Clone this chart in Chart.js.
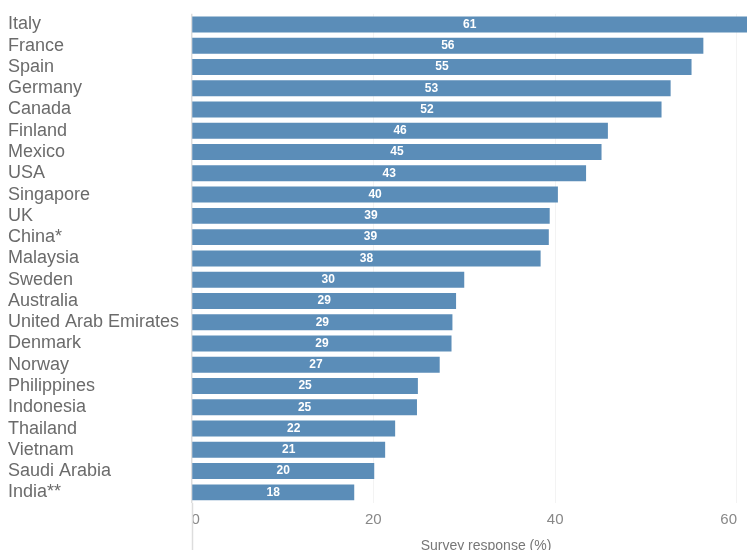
<!DOCTYPE html>
<html>
<head>
<meta charset="utf-8">
<script src="https://cdn.jsdelivr.net/npm/chart.js@4/dist/chart.umd.min.js"></script>
<style>
  html, body { margin: 0; padding: 0; background: #fff; }
  #wrap { width: 747px; height: 550px; position: relative; }
</style>
</head>
<body>
<div id="wrap"><canvas id="barChart"></canvas></div>
<script>
var countries = ["Italy", "France", "Spain", "Germany", "Canada", "Finland", "Mexico", "USA",
  "Singapore", "UK", "China*", "Malaysia", "Sweden", "Australia", "United Arab Emirates",
  "Denmark", "Norway", "Philippines", "Indonesia", "Thailand", "Vietnam", "Saudi Arabia", "India**"];
var responses = [61.1, 56.3, 55.0, 52.7, 51.7, 45.8, 45.1, 43.4, 40.3, 39.4, 39.3, 38.4,
  30.0, 29.1, 28.7, 28.6, 27.3, 24.9, 24.8, 22.4, 21.3, 20.1, 17.9];
var xTicks = [0, 20, 40, 60];
var xTitle = "Survey response (%)";

var fontFamily = "'Liberation Sans', Arial, Helvetica, sans-serif";

var barLabels = {
  id: "barLabels",
  afterDatasetsDraw: function (chart) {
    var ctx = chart.ctx;
    var meta = chart.getDatasetMeta(0);
    ctx.save();
    ctx.fillStyle = "#ffffff";
    ctx.font = "bold 12px " + fontFamily;
    ctx.textAlign = "center";
    ctx.textBaseline = "middle";
    meta.data.forEach(function (bar, i) {
      var cx = (bar.x + bar.base) / 2;
      ctx.fillText(String(Math.round(responses[i])), cx, bar.y);
    });
    ctx.restore();
  }
};

// zero line runs down past the ticks, and the axis title sits off-centre
var axisExtras = {
  id: "axisExtras",
  afterDraw: function (chart) {
    var ctx = chart.ctx;
    var x0 = Math.round(chart.scales.x.getPixelForValue(0)) + 0.5;
    ctx.save();
    ctx.strokeStyle = "#dddddd";
    ctx.lineWidth = 1.5;
    ctx.beginPath();
    ctx.moveTo(x0, chart.chartArea.bottom);
    ctx.lineTo(x0, chart.height);
    ctx.stroke();
    ctx.fillStyle = "#777777";
    ctx.font = "14px " + fontFamily;
    ctx.textAlign = "center";
    ctx.textBaseline = "middle";
    ctx.fillText(xTitle, 486, 546);
    ctx.restore();
  }
};

new Chart(document.getElementById("barChart"), {
  type: "bar",
  data: {
    labels: countries,
    datasets: [{
      data: responses,
      backgroundColor: "#5b8db8",
      borderWidth: 0,
      barPercentage: 0.75,
      categoryPercentage: 1
    }]
  },
  options: {
    indexAxis: "y",
    responsive: true,
    maintainAspectRatio: false,
    animation: false,
    layout: { padding: { left: 8, top: 12, right: 0, bottom: 0 } },
    plugins: {
      legend: { display: false },
      tooltip: { enabled: false }
    },
    scales: {
      x: {
        min: 0,
        max: 61.1,
        afterBuildTicks: function (axis) {
          axis.ticks = xTicks.map(function (v) { return { value: v }; });
        },
        afterFit: function (axis) { axis.height = 47; },
        border: { display: false },
        grid: {
          color: function (c) { return c.tick && c.tick.value === 0 ? "#dddddd" : "#f3f3f3"; },
          lineWidth: function (c) { return c.tick && c.tick.value === 0 ? 1.5 : 1; },
          drawTicks: false
        },
        ticks: {
          align: "inner",
          color: "#888888",
          padding: 8,
          font: { family: fontFamily, size: 15 }
        }
      },
      y: {
        border: { display: false },
        grid: { display: false },
        afterFit: function (axis) { axis.width = 183.5; },
        ticks: {
          crossAlign: "far",
          color: "#6b6b6b",
          autoSkip: false,
          font: { family: fontFamily, size: 18 }
        }
      }
    }
  },
  plugins: [barLabels, axisExtras]
});
</script>
</body>
</html>
